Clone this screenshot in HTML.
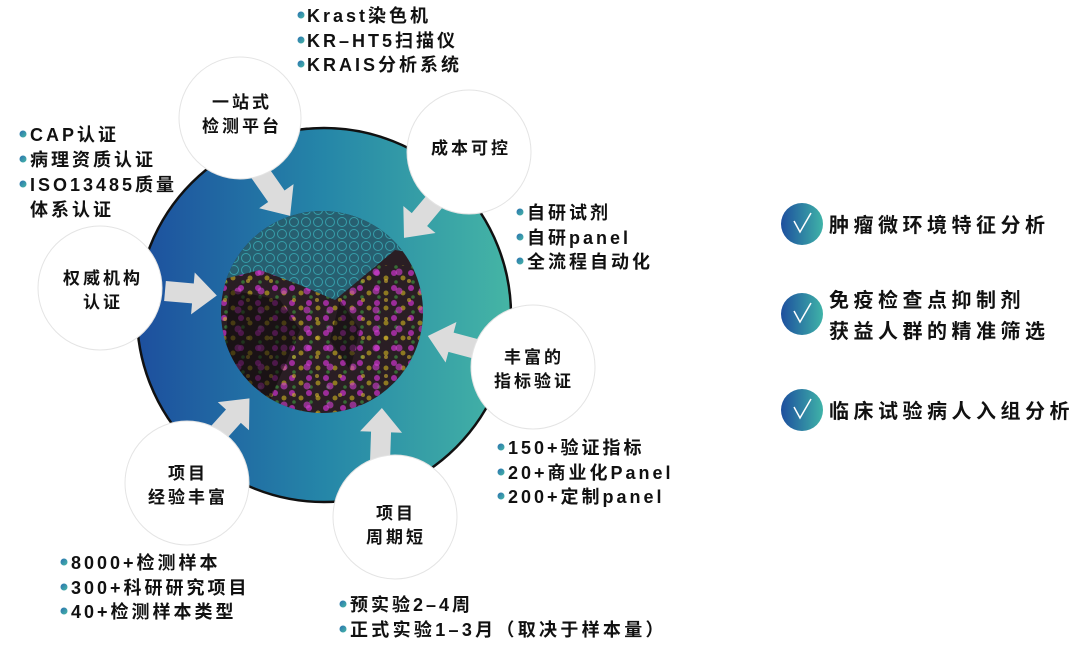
<!DOCTYPE html>
<html><head><meta charset="utf-8"><style>
body{margin:0;background:#fff;width:1080px;height:658px;overflow:hidden}
svg text{font-family:"Liberation Sans","Noto Sans CJK SC",sans-serif;font-weight:bold;fill:#111}
</style></head><body>
<svg width="1080" height="658" viewBox="0 0 1080 658" xmlns="http://www.w3.org/2000/svg">
<defs>
<linearGradient id="g" x1="0" y1="0" x2="1" y2="0">
<stop offset="0" stop-color="#1d4f9e"/><stop offset="0.5" stop-color="#2586a8"/><stop offset="1" stop-color="#45b5a5"/>
</linearGradient>
<linearGradient id="d" x1="0" y1="0" x2="1" y2="1">
<stop offset="0" stop-color="#2a6fb0"/><stop offset="1" stop-color="#46b8a6"/>
</linearGradient>
<linearGradient id="ck" x1="0" y1="0" x2="1" y2="0">
<stop offset="0" stop-color="#1d4f9e"/><stop offset="1" stop-color="#3fb3a8"/>
</linearGradient>
<pattern id="dots" width="17" height="15" patternUnits="userSpaceOnUse">
<circle cx="3" cy="3" r="3" fill="#c030c0" opacity="0.75"/>
<circle cx="12" cy="8" r="2.5" fill="#b8a020" opacity="0.7"/>
<circle cx="5" cy="12" r="1.8" fill="#40a040" opacity="0.6"/>
</pattern>
<pattern id="dots2" width="23" height="19" patternUnits="userSpaceOnUse">
<circle cx="8" cy="6" r="3.5" fill="#d040d0" opacity="0.6"/>
<circle cx="18" cy="15" r="2" fill="#d0b030" opacity="0.6"/>
</pattern>
<pattern id="cy" width="12" height="12" patternUnits="userSpaceOnUse">
<circle cx="6" cy="6" r="4.5" fill="none" stroke="#40c8d0" stroke-width="1" opacity="0.6"/>
</pattern>
<clipPath id="cc"><circle cx="322" cy="312" r="101"/></clipPath>
</defs>
<circle cx="324" cy="315" r="187" fill="url(#g)" stroke="#111" stroke-width="2.5"/>
<g clip-path="url(#cc)">
<rect x="220" y="210" width="205" height="205" fill="#2a1e24"/>
<rect x="220" y="265" width="205" height="150" fill="url(#dots)"/>
<rect x="220" y="265" width="205" height="150" fill="url(#dots2)"/>
<path d="M220 210 H425 V255 L395 250 L365 275 L335 300 L300 285 L260 270 L220 280 Z" fill="#275f70"/>
<path d="M220 210 H425 V255 L395 250 L365 275 L335 300 L300 285 L260 270 L220 280 Z" fill="url(#cy)"/>
<path d="M230 290 L280 300 L300 330 L270 400 L220 400 Z" fill="#0c0a0a" opacity="0.55"/>
<path d="M340 300 L360 330 L350 370 L330 340 Z" fill="#0c0a0a" opacity="0.5"/>
</g>
<g fill="#dcdcdc">
<polygon points="0,-10 32,-10 32,-21 56,0 32,21 32,10 0,10" transform="translate(258,170) rotate(55)"/>
<polygon points="0,-10 32,-10 32,-21 56,0 32,21 32,10 0,10" transform="translate(440,195) rotate(130)"/>
<polygon points="0,-10 28,-10 28,-21 52,0 28,21 28,10 0,10" transform="translate(165,291) rotate(5)"/>
<polygon points="0,-10 30,-10 30,-21 54,0 30,21 30,10 0,10" transform="translate(480,350) rotate(195)"/>
<polygon points="0,-10 32,-10 32,-21 56,0 32,21 32,10 0,10" transform="translate(212,440) rotate(-48)"/>
<polygon points="0,-10 30,-10 30,-21 54,0 30,21 30,10 0,10" transform="translate(380,462) rotate(-88)"/>
</g>
<g fill="#fff" stroke="#e4e4e4" stroke-width="1">
<circle cx="240" cy="118" r="61"/>
<circle cx="469" cy="152" r="62"/>
<circle cx="100" cy="288" r="62"/>
<circle cx="533" cy="367" r="62"/>
<circle cx="187" cy="483" r="62"/>
<circle cx="395" cy="517" r="62"/>
</g>
<g font-size="17" text-anchor="middle" letter-spacing="3">
<text x="242" y="108">一站式</text><text x="242" y="132">检测平台</text>
<text x="471" y="154">成本可控</text>
<text x="103" y="284">权威机构</text><text x="103" y="308">认证</text>
<text x="534" y="363">丰富的</text><text x="534" y="387">指标验证</text>
<text x="188" y="479">项目</text><text x="188" y="503">经验丰富</text>
<text x="396" y="519">项目</text><text x="396" y="543">周期短</text>
</g>
<g font-size="18" letter-spacing="3">
<circle cx="301" cy="15" r="3.5" fill="url(#d)"/><text x="307" y="22">Krast染色机</text>
<circle cx="301" cy="40" r="3.5" fill="url(#d)"/><text x="307" y="47">KR–HT5扫描仪</text>
<circle cx="301" cy="64" r="3.5" fill="url(#d)"/><text x="307" y="71">KRAIS分析系统</text>

<circle cx="23" cy="134" r="3.5" fill="url(#d)"/><text x="30" y="141">CAP认证</text>
<circle cx="23" cy="159" r="3.5" fill="url(#d)"/><text x="30" y="166">病理资质认证</text>
<circle cx="23" cy="184" r="3.5" fill="url(#d)"/><text x="30" y="191">ISO13485质量</text>
<text x="30" y="216">体系认证</text>

<circle cx="520" cy="212" r="3.5" fill="url(#d)"/><text x="527" y="219">自研试剂</text>
<circle cx="520" cy="237" r="3.5" fill="url(#d)"/><text x="527" y="244">自研panel</text>
<circle cx="520" cy="261" r="3.5" fill="url(#d)"/><text x="527" y="268">全流程自动化</text>

<circle cx="501" cy="447" r="3.5" fill="url(#d)"/><text x="508" y="454">150+验证指标</text>
<circle cx="501" cy="472" r="3.5" fill="url(#d)"/><text x="508" y="479">20+商业化Panel</text>
<circle cx="501" cy="496" r="3.5" fill="url(#d)"/><text x="508" y="503">200+定制panel</text>

<circle cx="64" cy="562" r="3.5" fill="url(#d)"/><text x="71" y="569">8000+检测样本</text>
<circle cx="64" cy="587" r="3.5" fill="url(#d)"/><text x="71" y="594">300+科研研究项目</text>
<circle cx="64" cy="611" r="3.5" fill="url(#d)"/><text x="71" y="618">40+检测样本类型</text>

<circle cx="343" cy="604" r="3.5" fill="url(#d)"/><text x="350" y="611">预实验2–4周</text>
<circle cx="343" cy="629" r="3.5" fill="url(#d)"/><text x="350" y="636" letter-spacing="3.3">正式实验1–3月（取决于样本量）</text>
</g>
<g>
<circle cx="802" cy="224" r="21" fill="url(#ck)"/>
<circle cx="802" cy="314" r="21" fill="url(#ck)"/>
<circle cx="802" cy="410" r="21" fill="url(#ck)"/>
<g fill="none" stroke="#fff" stroke-width="1.5">
<path d="M794 221 L800 232 L811 213"/>
<path d="M794 311 L800 322 L811 303"/>
<path d="M794 407 L800 418 L811 399"/>
</g>
</g>
<g font-size="20" letter-spacing="4.5">
<text x="829" y="232">肿瘤微环境特征分析</text>
<text x="829" y="307">免疫检查点抑制剂</text>
<text x="829" y="338">获益人群的精准筛选</text>
<text x="829" y="418">临床试验病人入组分析</text>
</g>
</svg>
</body></html>
